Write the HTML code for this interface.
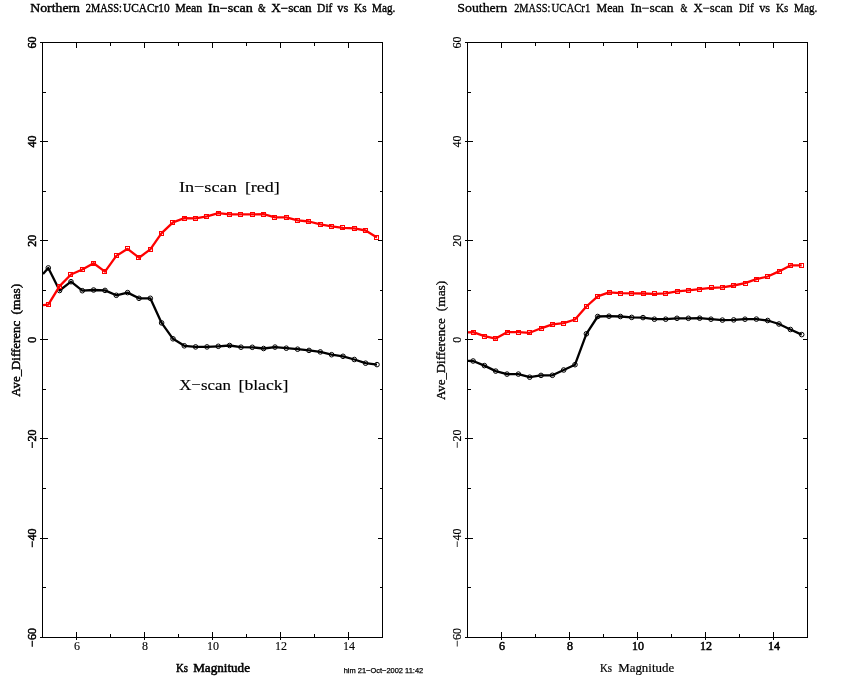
<!DOCTYPE html>
<html lang="en"><head><meta charset="utf-8"><title>2MASS:UCAC Mean In-scan &amp; X-scan Dif vs Ks Mag.</title>
<style>
html,body{margin:0;padding:0;background:#fff;}
body{width:850px;height:680px;overflow:hidden;font-family:"Liberation Serif",serif;}
svg{display:block;will-change:transform;}
text{font-family:"Liberation Serif",serif;fill:#000;}
.ax{stroke:#000;stroke-width:1;fill:none;shape-rendering:crispEdges;}
.rl{stroke:#f00;stroke-width:2.3;fill:none;stroke-linejoin:round;stroke-linecap:butt;}
.bl{stroke:#000;stroke-width:2.3;fill:none;stroke-linejoin:round;stroke-linecap:butt;}
.rm{stroke:#f00;stroke-width:1;fill:none;shape-rendering:crispEdges;}
.bm{stroke:#000;stroke-width:1;fill:none;}
.tk{font-size:12px;stroke:#000;stroke-width:0.35px;}
.ti{font-size:12px;stroke:#000;stroke-width:0.35px;}
.lb{font-size:12px;stroke:#000;stroke-width:0.35px;}
.an{font-size:15.5px;stroke:#000;stroke-width:0.15px;}
.ft{font-family:"Liberation Sans",sans-serif;font-size:7.5px;stroke:#000;stroke-width:0.25px;}
</style></head><body>
<svg width="850" height="680" viewBox="0 0 850 680">
<rect x="0" y="0" width="850" height="680" fill="#fff"/>
<g id="panel0">
<rect class="ax" x="42.5" y="42.5" width="340.0" height="595.0"/>
<path class="ax" d="M76.5 632.0V640.0M76.5 42.5V48.0M110.5 634.0V637.5M110.5 42.5V46.0M144.5 632.0V640.0M144.5 42.5V48.0M178.5 634.0V637.5M178.5 42.5V46.0M212.5 632.0V640.0M212.5 42.5V48.0M246.5 634.0V637.5M246.5 42.5V46.0M280.5 632.0V640.0M280.5 42.5V48.0M314.5 634.0V637.5M314.5 42.5V46.0M348.5 632.0V640.0M348.5 42.5V48.0M40.0 637.5H48.0M378.0 637.5H382.5M42.5 587.5H46.0M380.0 587.5H382.5M40.0 538.5H48.0M378.0 538.5H382.5M42.5 488.5H46.0M380.0 488.5H382.5M40.0 438.5H48.0M378.0 438.5H382.5M42.5 389.5H46.0M380.0 389.5H382.5M40.0 339.5H48.0M378.0 339.5H382.5M42.5 290.5H46.0M380.0 290.5H382.5M40.0 240.5H48.0M378.0 240.5H382.5M42.5 191.5H46.0M380.0 191.5H382.5M40.0 141.5H48.0M378.0 141.5H382.5M42.5 92.5H46.0M380.0 92.5H382.5M40.0 42.5H48.0M378.0 42.5H382.5"/>
<text class="tk" style="stroke-width:0.12px" x="77.0" y="650" text-anchor="middle">6</text>
<text class="tk" style="stroke-width:0.12px" x="145.0" y="650" text-anchor="middle">8</text>
<text class="tk" style="stroke-width:0.12px" x="213.0" y="650" text-anchor="middle">10</text>
<text class="tk" style="stroke-width:0.12px" x="281.0" y="650" text-anchor="middle">12</text>
<text class="tk" style="stroke-width:0.12px" x="349.0" y="650" text-anchor="middle">14</text>
<text class="tk" style="stroke-width:0.5px" transform="translate(36.0 637.5) rotate(-90)" text-anchor="middle">−60</text>
<text class="tk" style="stroke-width:0.5px" transform="translate(36.0 538.0) rotate(-90)" text-anchor="middle">−40</text>
<text class="tk" style="stroke-width:0.5px" transform="translate(36.0 438.9) rotate(-90)" text-anchor="middle">−20</text>
<text class="tk" style="stroke-width:0.5px" transform="translate(36.0 339.8) rotate(-90)" text-anchor="middle">0</text>
<text class="tk" style="stroke-width:0.5px" transform="translate(36.0 240.7) rotate(-90)" text-anchor="middle">20</text>
<text class="tk" style="stroke-width:0.5px" transform="translate(36.0 141.6) rotate(-90)" text-anchor="middle">40</text>
<text class="tk" style="stroke-width:0.5px" transform="translate(36.0 42.5) rotate(-90)" text-anchor="middle">60</text>
<text class="lb" style="stroke-width:0.5px" x="175.9" y="671.5" textLength="12.0" lengthAdjust="spacingAndGlyphs">Ks</text>
<text class="lb" style="stroke-width:0.5px" x="193.2" y="671.5" textLength="56.8" lengthAdjust="spacingAndGlyphs">Magnitude</text>
<text class="lb" style="stroke-width:0.45px" transform="translate(20.2 396.8) rotate(-90)" textLength="75.9" lengthAdjust="spacingAndGlyphs">Ave_Differenc</text>
<text class="lb" style="stroke-width:0.45px" transform="translate(20.2 314.4) rotate(-90)" textLength="30.5" lengthAdjust="spacingAndGlyphs">(mas)</text>
<text class="ti" style="stroke-width:0.38px" x="30.3" y="11.9" textLength="49.7" lengthAdjust="spacingAndGlyphs">Northern</text>
<text class="ti" style="stroke-width:0.38px" x="85.8" y="11.9" textLength="36.2" lengthAdjust="spacingAndGlyphs">2MASS:</text>
<text class="ti" style="stroke-width:0.38px" x="123.1" y="11.9" textLength="46.5" lengthAdjust="spacingAndGlyphs">UCACr10</text>
<text class="ti" style="stroke-width:0.38px" x="175.2" y="11.9" textLength="27.1" lengthAdjust="spacingAndGlyphs">Mean</text>
<text class="ti" style="stroke-width:0.38px" x="208.1" y="11.9" textLength="44.7" lengthAdjust="spacingAndGlyphs">In−scan</text>
<text class="ti" style="stroke-width:0.38px" x="258.1" y="11.9" textLength="7.7" lengthAdjust="spacingAndGlyphs">&amp;</text>
<text class="ti" style="stroke-width:0.38px" x="271.2" y="11.9" textLength="40.4" lengthAdjust="spacingAndGlyphs">X−scan</text>
<text class="ti" style="stroke-width:0.38px" x="317.1" y="11.9" textLength="15.3" lengthAdjust="spacingAndGlyphs">Dif</text>
<text class="ti" style="stroke-width:0.38px" x="337.3" y="11.9" textLength="11.0" lengthAdjust="spacingAndGlyphs">vs</text>
<text class="ti" style="stroke-width:0.38px" x="354.1" y="11.9" textLength="12.5" lengthAdjust="spacingAndGlyphs">Ks</text>
<text class="ti" style="stroke-width:0.38px" x="372.1" y="11.9" textLength="23.3" lengthAdjust="spacingAndGlyphs">Mag.</text>
<path class="bl" d="M43.0 274.1L48.3 267.9L59.6 290.5L71.0 281.7L82.3 290.7L93.6 290.0L105.0 290.4L116.3 295.3L127.6 292.6L139.0 298.3L150.3 298.3L161.6 322.9L173.0 338.8L184.3 345.8L195.6 346.9L207.0 346.9L218.3 346.3L229.6 345.5L241.0 347.2L252.3 347.3L263.6 348.5L275.0 347.1L286.3 348.2L297.6 349.2L309.0 350.4L320.3 351.9L331.6 354.7L343.0 356.3L354.3 359.5L365.6 363.2L377.0 364.6"/>
<circle class="bm" cx="48.3" cy="267.9" r="2.3"/>
<circle class="bm" cx="59.6" cy="290.5" r="2.3"/>
<circle class="bm" cx="71.0" cy="281.7" r="2.3"/>
<circle class="bm" cx="82.3" cy="290.7" r="2.3"/>
<circle class="bm" cx="93.6" cy="290.0" r="2.3"/>
<circle class="bm" cx="105.0" cy="290.4" r="2.3"/>
<circle class="bm" cx="116.3" cy="295.3" r="2.3"/>
<circle class="bm" cx="127.6" cy="292.6" r="2.3"/>
<circle class="bm" cx="139.0" cy="298.3" r="2.3"/>
<circle class="bm" cx="150.3" cy="298.3" r="2.3"/>
<circle class="bm" cx="161.6" cy="322.9" r="2.3"/>
<circle class="bm" cx="173.0" cy="338.8" r="2.3"/>
<circle class="bm" cx="184.3" cy="345.8" r="2.3"/>
<circle class="bm" cx="195.6" cy="346.9" r="2.3"/>
<circle class="bm" cx="207.0" cy="346.9" r="2.3"/>
<circle class="bm" cx="218.3" cy="346.3" r="2.3"/>
<circle class="bm" cx="229.6" cy="345.5" r="2.3"/>
<circle class="bm" cx="241.0" cy="347.2" r="2.3"/>
<circle class="bm" cx="252.3" cy="347.3" r="2.3"/>
<circle class="bm" cx="263.6" cy="348.5" r="2.3"/>
<circle class="bm" cx="275.0" cy="347.1" r="2.3"/>
<circle class="bm" cx="286.3" cy="348.2" r="2.3"/>
<circle class="bm" cx="297.6" cy="349.2" r="2.3"/>
<circle class="bm" cx="309.0" cy="350.4" r="2.3"/>
<circle class="bm" cx="320.3" cy="351.9" r="2.3"/>
<circle class="bm" cx="331.6" cy="354.7" r="2.3"/>
<circle class="bm" cx="343.0" cy="356.3" r="2.3"/>
<circle class="bm" cx="354.3" cy="359.5" r="2.3"/>
<circle class="bm" cx="365.6" cy="363.2" r="2.3"/>
<circle class="bm" cx="377.0" cy="364.6" r="2.3"/>
<path class="rl" d="M43.0 305.2L48.3 304.6L59.6 286.1L71.0 274.5L82.3 269.5L93.6 263.2L105.0 271.6L116.3 255.9L127.6 248.8L139.0 257.7L150.3 249.4L161.6 233.2L173.0 222.4L184.3 218.2L195.6 218.4L207.0 216.4L218.3 213.2L229.6 214.4L241.0 214.4L252.3 214.4L263.6 214.1L275.0 217.4L286.3 217.4L297.6 220.3L309.0 221.5L320.3 224.3L331.6 226.4L343.0 227.8L354.3 228.4L365.6 230.5L377.0 237.4"/>
<rect class="rm" x="46.5" y="302.5" width="4" height="4"/>
<rect class="rm" x="57.5" y="284.5" width="4" height="4"/>
<rect class="rm" x="68.5" y="272.5" width="4" height="4"/>
<rect class="rm" x="80.5" y="267.5" width="4" height="4"/>
<rect class="rm" x="91.5" y="261.5" width="4" height="4"/>
<rect class="rm" x="102.5" y="269.5" width="4" height="4"/>
<rect class="rm" x="114.5" y="253.5" width="4" height="4"/>
<rect class="rm" x="125.5" y="246.5" width="4" height="4"/>
<rect class="rm" x="136.5" y="255.5" width="4" height="4"/>
<rect class="rm" x="148.5" y="247.5" width="4" height="4"/>
<rect class="rm" x="159.5" y="231.5" width="4" height="4"/>
<rect class="rm" x="170.5" y="220.5" width="4" height="4"/>
<rect class="rm" x="182.5" y="216.5" width="4" height="4"/>
<rect class="rm" x="193.5" y="216.5" width="4" height="4"/>
<rect class="rm" x="204.5" y="214.5" width="4" height="4"/>
<rect class="rm" x="216.5" y="211.5" width="4" height="4"/>
<rect class="rm" x="227.5" y="212.5" width="4" height="4"/>
<rect class="rm" x="238.5" y="212.5" width="4" height="4"/>
<rect class="rm" x="250.5" y="212.5" width="4" height="4"/>
<rect class="rm" x="261.5" y="212.5" width="4" height="4"/>
<rect class="rm" x="272.5" y="215.5" width="4" height="4"/>
<rect class="rm" x="284.5" y="215.5" width="4" height="4"/>
<rect class="rm" x="295.5" y="218.5" width="4" height="4"/>
<rect class="rm" x="306.5" y="219.5" width="4" height="4"/>
<rect class="rm" x="318.5" y="222.5" width="4" height="4"/>
<rect class="rm" x="329.5" y="224.5" width="4" height="4"/>
<rect class="rm" x="340.5" y="225.5" width="4" height="4"/>
<rect class="rm" x="352.5" y="226.5" width="4" height="4"/>
<rect class="rm" x="363.5" y="228.5" width="4" height="4"/>
<rect class="rm" x="374.5" y="235.5" width="4" height="4"/>
</g>
<g id="panel1">
<rect class="ax" x="467.5" y="42.5" width="340.0" height="595.0"/>
<path class="ax" d="M501.5 632.0V640.0M501.5 42.5V48.0M535.5 634.0V637.5M535.5 42.5V46.0M569.5 632.0V640.0M569.5 42.5V48.0M603.5 634.0V637.5M603.5 42.5V46.0M637.5 632.0V640.0M637.5 42.5V48.0M671.5 634.0V637.5M671.5 42.5V46.0M705.5 632.0V640.0M705.5 42.5V48.0M739.5 634.0V637.5M739.5 42.5V46.0M773.5 632.0V640.0M773.5 42.5V48.0M465.0 637.5H473.0M803.0 637.5H807.5M467.5 587.5H471.0M805.0 587.5H807.5M465.0 538.5H473.0M803.0 538.5H807.5M467.5 488.5H471.0M805.0 488.5H807.5M465.0 438.5H473.0M803.0 438.5H807.5M467.5 389.5H471.0M805.0 389.5H807.5M465.0 339.5H473.0M803.0 339.5H807.5M467.5 290.5H471.0M805.0 290.5H807.5M465.0 240.5H473.0M803.0 240.5H807.5M467.5 191.5H471.0M805.0 191.5H807.5M465.0 141.5H473.0M803.0 141.5H807.5M467.5 92.5H471.0M805.0 92.5H807.5M465.0 42.5H473.0M803.0 42.5H807.5"/>
<text class="tk" style="stroke-width:0.5px" x="502.0" y="650" text-anchor="middle">6</text>
<text class="tk" style="stroke-width:0.5px" x="570.0" y="650" text-anchor="middle">8</text>
<text class="tk" style="stroke-width:0.5px" x="638.0" y="650" text-anchor="middle">10</text>
<text class="tk" style="stroke-width:0.5px" x="706.0" y="650" text-anchor="middle">12</text>
<text class="tk" style="stroke-width:0.5px" x="774.0" y="650" text-anchor="middle">14</text>
<text class="tk" style="stroke-width:0.15px" transform="translate(461.0 637.5) rotate(-90)" text-anchor="middle">−60</text>
<text class="tk" style="stroke-width:0.15px" transform="translate(461.0 538.0) rotate(-90)" text-anchor="middle">−40</text>
<text class="tk" style="stroke-width:0.15px" transform="translate(461.0 438.9) rotate(-90)" text-anchor="middle">−20</text>
<text class="tk" style="stroke-width:0.15px" transform="translate(461.0 339.8) rotate(-90)" text-anchor="middle">0</text>
<text class="tk" style="stroke-width:0.15px" transform="translate(461.0 240.7) rotate(-90)" text-anchor="middle">20</text>
<text class="tk" style="stroke-width:0.15px" transform="translate(461.0 141.6) rotate(-90)" text-anchor="middle">40</text>
<text class="tk" style="stroke-width:0.15px" transform="translate(461.0 42.5) rotate(-90)" text-anchor="middle">60</text>
<text class="lb" style="stroke-width:0.18px" x="600.0" y="671.5" textLength="12.1" lengthAdjust="spacingAndGlyphs">Ks</text>
<text class="lb" style="stroke-width:0.18px" x="618.2" y="671.5" textLength="56.0" lengthAdjust="spacingAndGlyphs">Magnitude</text>
<text class="lb" style="stroke-width:0.3px" transform="translate(445.2 400.1) rotate(-90)" textLength="81.7" lengthAdjust="spacingAndGlyphs">Ave_Difference</text>
<text class="lb" style="stroke-width:0.3px" transform="translate(445.2 311.2) rotate(-90)" textLength="30.5" lengthAdjust="spacingAndGlyphs">(mas)</text>
<text class="ti" style="stroke-width:0.3px" x="457.3" y="11.9" textLength="50.0" lengthAdjust="spacingAndGlyphs">Southern</text>
<text class="ti" style="stroke-width:0.3px" x="514.2" y="11.9" textLength="36.2" lengthAdjust="spacingAndGlyphs">2MASS:</text>
<text class="ti" style="stroke-width:0.3px" x="551.6" y="11.9" textLength="38.7" lengthAdjust="spacingAndGlyphs">UCACr1</text>
<text class="ti" style="stroke-width:0.3px" x="596.4" y="11.9" textLength="27.5" lengthAdjust="spacingAndGlyphs">Mean</text>
<text class="ti" style="stroke-width:0.3px" x="630.4" y="11.9" textLength="43.2" lengthAdjust="spacingAndGlyphs">In−scan</text>
<text class="ti" style="stroke-width:0.3px" x="680.5" y="11.9" textLength="6.9" lengthAdjust="spacingAndGlyphs">&amp;</text>
<text class="ti" style="stroke-width:0.3px" x="693.5" y="11.9" textLength="39.0" lengthAdjust="spacingAndGlyphs">X−scan</text>
<text class="ti" style="stroke-width:0.3px" x="739.0" y="11.9" textLength="14.6" lengthAdjust="spacingAndGlyphs">Dif</text>
<text class="ti" style="stroke-width:0.3px" x="759.2" y="11.9" textLength="11.0" lengthAdjust="spacingAndGlyphs">vs</text>
<text class="ti" style="stroke-width:0.3px" x="776.0" y="11.9" textLength="12.3" lengthAdjust="spacingAndGlyphs">Ks</text>
<text class="ti" style="stroke-width:0.3px" x="794.1" y="11.9" textLength="23.2" lengthAdjust="spacingAndGlyphs">Mag.</text>
<path class="bl" d="M468.0 360.8L473.1 361.0L484.4 365.6L495.7 371.1L507.0 374.1L518.4 374.1L529.7 377.2L541.0 375.4L552.4 375.3L563.7 370.0L575.0 364.7L586.4 333.8L597.7 316.5L609.0 316.2L620.4 316.5L631.7 317.4L643.0 317.6L654.4 319.2L665.7 319.2L677.0 318.3L688.4 318.3L699.7 318.2L711.0 319.2L722.4 320.1L733.7 319.9L745.0 319.2L756.4 319.1L767.7 320.5L779.0 324.0L790.4 329.5L801.7 334.6"/>
<circle class="bm" cx="473.1" cy="361.0" r="2.3"/>
<circle class="bm" cx="484.4" cy="365.6" r="2.3"/>
<circle class="bm" cx="495.7" cy="371.1" r="2.3"/>
<circle class="bm" cx="507.0" cy="374.1" r="2.3"/>
<circle class="bm" cx="518.4" cy="374.1" r="2.3"/>
<circle class="bm" cx="529.7" cy="377.2" r="2.3"/>
<circle class="bm" cx="541.0" cy="375.4" r="2.3"/>
<circle class="bm" cx="552.4" cy="375.3" r="2.3"/>
<circle class="bm" cx="563.7" cy="370.0" r="2.3"/>
<circle class="bm" cx="575.0" cy="364.7" r="2.3"/>
<circle class="bm" cx="586.4" cy="333.8" r="2.3"/>
<circle class="bm" cx="597.7" cy="316.5" r="2.3"/>
<circle class="bm" cx="609.0" cy="316.2" r="2.3"/>
<circle class="bm" cx="620.4" cy="316.5" r="2.3"/>
<circle class="bm" cx="631.7" cy="317.4" r="2.3"/>
<circle class="bm" cx="643.0" cy="317.6" r="2.3"/>
<circle class="bm" cx="654.4" cy="319.2" r="2.3"/>
<circle class="bm" cx="665.7" cy="319.2" r="2.3"/>
<circle class="bm" cx="677.0" cy="318.3" r="2.3"/>
<circle class="bm" cx="688.4" cy="318.3" r="2.3"/>
<circle class="bm" cx="699.7" cy="318.2" r="2.3"/>
<circle class="bm" cx="711.0" cy="319.2" r="2.3"/>
<circle class="bm" cx="722.4" cy="320.1" r="2.3"/>
<circle class="bm" cx="733.7" cy="319.9" r="2.3"/>
<circle class="bm" cx="745.0" cy="319.2" r="2.3"/>
<circle class="bm" cx="756.4" cy="319.1" r="2.3"/>
<circle class="bm" cx="767.7" cy="320.5" r="2.3"/>
<circle class="bm" cx="779.0" cy="324.0" r="2.3"/>
<circle class="bm" cx="790.4" cy="329.5" r="2.3"/>
<circle class="bm" cx="801.7" cy="334.6" r="2.3"/>
<path class="rl" d="M468.0 332.4L473.1 332.1L484.4 336.1L495.7 338.6L507.0 332.2L518.4 332.2L529.7 332.8L541.0 328.3L552.4 324.3L563.7 323.2L575.0 319.5L586.4 306.5L597.7 296.4L609.0 292.4L620.4 293.2L631.7 293.4L643.0 293.5L654.4 293.8L665.7 293.3L677.0 291.4L688.4 290.3L699.7 289.2L711.0 287.8L722.4 287.3L733.7 285.5L745.0 283.2L756.4 279.2L767.7 276.5L779.0 271.4L790.4 265.4L801.7 265.4"/>
<rect class="rm" x="471.5" y="330.5" width="4" height="4"/>
<rect class="rm" x="482.5" y="334.5" width="4" height="4"/>
<rect class="rm" x="493.5" y="336.5" width="4" height="4"/>
<rect class="rm" x="505.5" y="330.5" width="4" height="4"/>
<rect class="rm" x="516.5" y="330.5" width="4" height="4"/>
<rect class="rm" x="527.5" y="330.5" width="4" height="4"/>
<rect class="rm" x="539.5" y="326.5" width="4" height="4"/>
<rect class="rm" x="550.5" y="322.5" width="4" height="4"/>
<rect class="rm" x="561.5" y="321.5" width="4" height="4"/>
<rect class="rm" x="573.5" y="317.5" width="4" height="4"/>
<rect class="rm" x="584.5" y="304.5" width="4" height="4"/>
<rect class="rm" x="595.5" y="294.5" width="4" height="4"/>
<rect class="rm" x="607.5" y="290.5" width="4" height="4"/>
<rect class="rm" x="618.5" y="291.5" width="4" height="4"/>
<rect class="rm" x="629.5" y="291.5" width="4" height="4"/>
<rect class="rm" x="641.5" y="291.5" width="4" height="4"/>
<rect class="rm" x="652.5" y="291.5" width="4" height="4"/>
<rect class="rm" x="663.5" y="291.5" width="4" height="4"/>
<rect class="rm" x="675.5" y="289.5" width="4" height="4"/>
<rect class="rm" x="686.5" y="288.5" width="4" height="4"/>
<rect class="rm" x="697.5" y="287.5" width="4" height="4"/>
<rect class="rm" x="709.5" y="285.5" width="4" height="4"/>
<rect class="rm" x="720.5" y="285.5" width="4" height="4"/>
<rect class="rm" x="731.5" y="283.5" width="4" height="4"/>
<rect class="rm" x="743.5" y="281.5" width="4" height="4"/>
<rect class="rm" x="754.5" y="277.5" width="4" height="4"/>
<rect class="rm" x="765.5" y="274.5" width="4" height="4"/>
<rect class="rm" x="777.5" y="269.5" width="4" height="4"/>
<rect class="rm" x="788.5" y="263.5" width="4" height="4"/>
<rect class="rm" x="799.5" y="263.5" width="4" height="4"/>
</g>
<text class="an" x="178.9" y="191.6" textLength="57.9" lengthAdjust="spacingAndGlyphs">In−scan</text>
<text class="an" x="244.9" y="191.6" textLength="34.9" lengthAdjust="spacingAndGlyphs">[red]</text>
<text class="an" x="179.2" y="389.6" textLength="51.7" lengthAdjust="spacingAndGlyphs">X−scan</text>
<text class="an" x="238.5" y="389.6" textLength="50.0" lengthAdjust="spacingAndGlyphs">[black]</text>
<text class="ft" x="343.7" y="673.3" textLength="79.5" lengthAdjust="spacingAndGlyphs">him 21−Oct−2002 11:42</text>
</svg>
</body></html>
